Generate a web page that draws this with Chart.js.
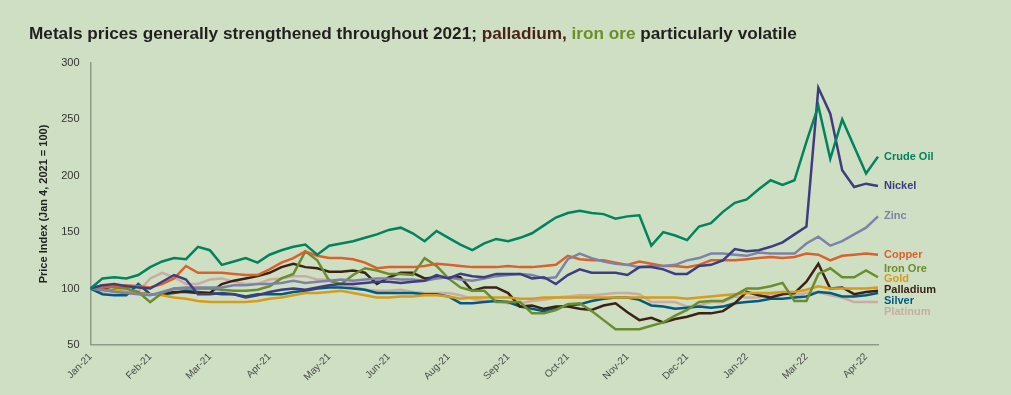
<!DOCTYPE html>
<html>
<head>
<meta charset="utf-8">
<script src="https://cdn.jsdelivr.net/npm/chart.js@4.4.0/dist/chart.umd.min.js"></script>
<style>
  html, body { margin: 0; padding: 0; background: #cfdfc4; }
  #wrap { position: relative; width: 1011px; height: 395px; }
  #title {
    position: absolute; left: 29px; top: 23px;
    font-family: "Liberation Sans", Arial, sans-serif;
    font-weight: bold; font-size: 17.2px; color: #231f20; white-space: nowrap;
  }
  #title .pd { color: #4a2216; }
  #title .fe { color: #6b8e2a; }
</style>
</head>
<body>
<div id="wrap">
  <canvas id="metalsChart" width="1011" height="395"></canvas>
  <div id="title">Metals prices generally strengthened throughout 2021; <span class="pd">palladium,</span> <span class="fe">iron ore</span> particularly volatile</div>
</div>
<script>
// weekly samples (every 5 trading days) from Jan 4, 2021 to mid Apr 2022, index Jan 4 2021 = 100
const monthTicks = ['Jan-21', 'Feb-21', 'Mar-21', 'Apr-21', 'May-21', 'Jun-21', 'Aug-21', 'Sep-21',
    'Oct-21', 'Nov-21', 'Dec-21', 'Jan-22', 'Mar-22', 'Apr-22'];
const ticksEvery = 5;

const crudeOil = [100,109,110,109,112,119,124,127,126,137, 134,121,124,127,123,130,134,137,139,130,
    138,140,142,145,148,152,154,149,142,151, 145,139,134,140,144,142,145,149,156,163,
    167,169,167,166,162,164,165,138,150,147, 143,155,158,168,176,179,188,196,192,196,
    230,262,215,250,226,202,217];
const nickel = [100,103,104,102,101,100,106,112,108,95, 95,96,95,92,94,97,99,100,99,101,
    103,104,104,105,106,106,105,106,107,112, 109,113,111,110,113,113,113,109,110,104,
    112,117,114,114,114,112,119,119,117,113, 113,120,121,125,135,133,134,137,141,148,
    155,278,255,205,190,193,191];
const zinc = [100,99,97,96,95,94,97,100,101,101, 101,101,103,103,104,104,105,107,105,106,
    107,108,107,108,109,109,108,108,107,109, 110,108,107,109,111,112,113,112,109,110,
    126,131,127,124,122,121,119,120,120,121, 125,127,131,131,130,129,132,131,131,131,
    140,146,138,142,148,154,164];
const copper = [100,101,102,103,102,101,104,109,120,114, 114,114,113,112,112,117,123,127,133,129,
    127,127,126,123,118,119,119,119,120,122, 121,120,119,119,119,120,119,119,120,121,
    129,126,125,125,123,121,124,122,120,120, 119,121,125,125,125,126,127,128,127,128,
    131,130,125,129,130,131,130];
const ironOre = [100,103,101,100,97,88,96,100,100,100, 100,99,98,98,99,102,109,113,133,125,
    107,104,112,118,116,113,113,112,127,120, 109,101,98,98,88,88,88,78,78,81,
    86,87,80,72,64,64,64,67,70,76, 81,88,89,89,94,100,100,102,105,89,
    89,113,118,110,110,116,110];
const gold = [100,99,98,97,96,95,94,92,91,89, 88,88,88,88,89,91,92,94,96,96,
    97,98,96,94,92,92,93,93,94,94, 93,91,92,92,92,92,91,91,92,92,
    92,92,92,92,92,92,92,92,92,92, 91,92,93,94,95,96,96,96,97,97,
    99,102,100,100,100,100,101];
const palladium = [100,100,98,96,96,95,95,97,97,96, 96,104,107,109,111,114,119,122,119,118,
    115,115,116,114,104,110,114,114,109,110, 110,110,98,101,101,96,84,85,82,84,
    84,82,81,85,87,79,72,74,70,73, 75,78,78,80,87,97,94,92,95,96,
    106,122,100,101,95,97,98];
const silver = [100,95,94,94,104,95,95,96,98,97, 96,95,95,93,95,95,95,97,98,100,
    101,101,100,99,96,96,96,96,95,95, 93,87,87,88,89,88,84,82,80,83,
    85,86,89,91,92,92,90,85,84,82, 83,84,83,84,87,88,89,91,91,92,
    93,97,96,93,93,94,96];
const platinum = [100,97,99,99,97,109,114,110,104,104, 108,109,106,104,104,108,109,111,111,108,
    108,104,102,99,98,98,99,97,96,96, 96,94,91,89,89,87,87,89,90,92,
    93,94,94,95,96,96,95,88,88,88, 84,85,88,88,93,92,92,95,96,94,
    96,97,94,92,88,88,88];

const seriesNames = ['Crude Oil', 'Nickel', 'Zinc', 'Copper', 'Iron Ore', 'Gold', 'Palladium', 'Silver', 'Platinum'];
const seriesData = [crudeOil, nickel, zinc, copper, ironOre, gold, palladium, silver, platinum];
const seriesColors = ['#00835e', '#3f3c7f', '#7d82a6', '#d9622c', '#6a8d2f', '#d69c1b', '#3a2215', '#015b80', '#c9aca2'];

const labels = crudeOil.map((v, i) => i);

// end-of-line labels, spread so they don't overlap
const endLabels = {
    id: 'endLabels',
    afterDatasetsDraw(chart) {
        const ctx = chart.ctx;
        const gap = 10.8;
        let items = chart.data.datasets.map((ds, i) => {
            const meta = chart.getDatasetMeta(i);
            const pt = meta.data[meta.data.length - 1];
            return { text: ds.label, color: ds.borderColor, want: pt.y };
        }).sort((a, b) => a.want - b.want);

        // group overlapping labels and center each group on its mean
        let groups = items.map(it => ({ items: [it], mean: it.want }));
        let merged = true;
        while (merged) {
            merged = false;
            for (let g = 0; g < groups.length - 1; g++) {
                const a = groups[g], b = groups[g + 1];
                const aBottom = a.mean + (a.items.length - 1) * gap / 2;
                const bTop = b.mean - (b.items.length - 1) * gap / 2;
                if (bTop - aBottom < gap) {
                    const all = a.items.concat(b.items);
                    groups.splice(g, 2, { items: all, mean: all.reduce((s, it) => s + it.want, 0) / all.length });
                    merged = true;
                    break;
                }
            }
        }
        ctx.save();
        ctx.font = 'bold 11px "Liberation Sans", Arial, sans-serif';
        ctx.textBaseline = 'middle';
        ctx.textAlign = 'left';
        const x = chart.chartArea.right + 6;
        groups.forEach(g => {
            const start = g.mean - (g.items.length - 1) * gap / 2;
            g.items.forEach((it, k) => {
                ctx.fillStyle = it.color;
                ctx.fillText(it.text, x, start + k * gap);
            });
        });
        ctx.restore();
    }
};

const ctx = document.getElementById('metalsChart').getContext('2d');
new Chart(ctx, {
    type: 'line',
    data: {
        labels: labels,
        datasets: seriesNames.map((name, i) => ({
            label: name,
            data: seriesData[i],
            borderColor: seriesColors[i],
            backgroundColor: seriesColors[i],
            borderWidth: 2.5,
            pointRadius: 0,
            tension: 0,
            fill: false
        }))
    },
    options: {
        responsive: false,
        animation: false,
        layout: { padding: { top: 63, right: 133, bottom: 6, left: 21 } },
        plugins: {
            legend: { display: false },
            tooltip: { enabled: false }
        },
        scales: {
            x: {
                type: 'category',
                grid: { display: false, drawTicks: false },
                border: { display: true, color: '#8f9a8b', width: 1.5 },
                ticks: {
                    autoSkip: false,
                    maxRotation: 45,
                    minRotation: 45,
                    padding: 6,
                    color: '#4a4a4a',
                    font: { family: '"Liberation Sans", Arial, sans-serif', size: 10 },
                    callback: (val, idx) => idx % ticksEvery === 0 ? monthTicks[idx / ticksEvery] : null
                }
            },
            y: {
                min: 50,
                max: 300,
                grid: { display: false, drawTicks: false },
                border: { display: true, color: '#8f9a8b', width: 1.5 },
                ticks: {
                    stepSize: 50,
                    padding: 11,
                    color: '#333333',
                    font: { family: '"Liberation Sans", Arial, sans-serif', size: 11 }
                },
                title: {
                    display: true,
                    text: 'Price Index (Jan 4, 2021 = 100)',
                    color: '#222222',
                    padding: { top: 16, bottom: 0 },
                    font: { family: '"Liberation Sans", Arial, sans-serif', size: 11, weight: 'bold' }
                }
            }
        }
    },
    plugins: [endLabels]
});
</script>
</body>
</html>
